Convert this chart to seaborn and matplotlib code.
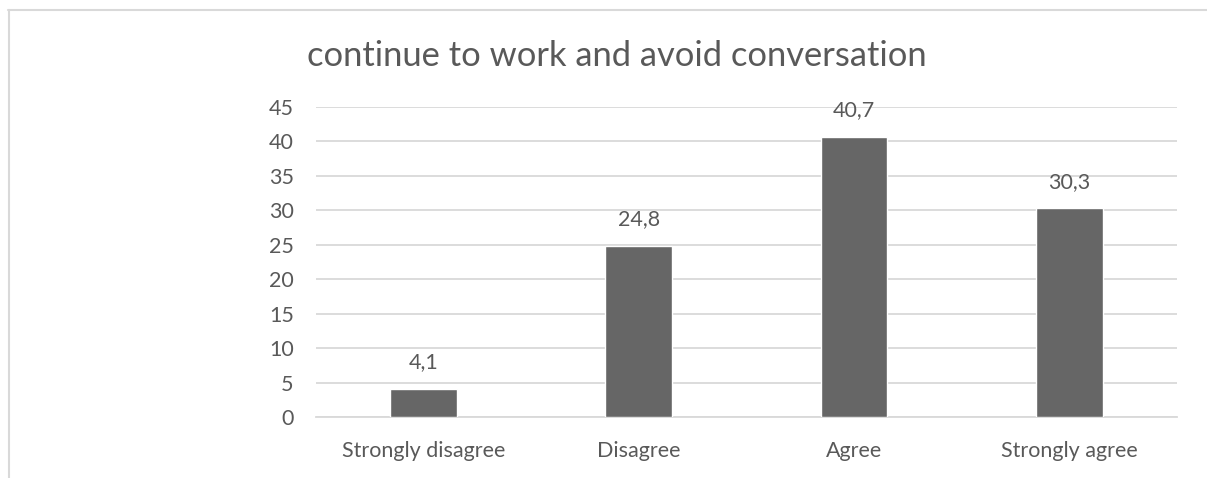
import matplotlib
matplotlib.use("Agg")
import matplotlib.pyplot as plt
from matplotlib.lines import Line2D
import seaborn as sns
import pandas as pd

categories = ["Strongly disagree", "Disagree", "Agree", "Strongly agree"]
values = [4.1, 24.8, 40.7, 30.3]
y_ticks = [0, 5, 10, 15, 20, 25, 30, 35, 40, 45]
title = "continue to work and avoid conversation"

sns.set_theme(style="white")
plt.rcParams["font.family"] = ["Lato", "DejaVu Sans"]

text_color = "#595959"
grid_color = "#d9d9d9"
bar_color = "#666666"

df = pd.DataFrame({"category": categories, "value": values})

fig = plt.figure(figsize=(12.07, 4.78), dpi=100)
ax = fig.add_axes([0.2618, 0.1276, 0.7133, 0.6485])

sns.barplot(data=df, x="category", y="value", color=bar_color,
            width=0.31, saturation=1, ax=ax, zorder=3)

ax.set_ylim(0, 45)
ax.set_yticks(y_ticks)
ax.set_xlim(-0.5, len(categories) - 0.5)
ax.yaxis.grid(True, color=grid_color, linewidth=1.3, zorder=0)
ax.xaxis.grid(False)
for side in ["top", "right", "left"]:
    ax.spines[side].set_visible(False)
ax.spines["bottom"].set_color(grid_color)
ax.spines["bottom"].set_linewidth(1.3)
ax.set_xlabel("")
ax.set_ylabel("")
ax.tick_params(axis="y", length=0, pad=16, labelsize=15.5, labelcolor=text_color)
ax.tick_params(axis="x", length=0, pad=17, labelsize=15.5, labelcolor=text_color)

for patch, v in zip(ax.patches, values):
    ax.annotate(f"{v:.1f}".replace(".", ","),
                (patch.get_x() + patch.get_width() / 2, patch.get_height()),
                xytext=(0, 12), textcoords="offset points",
                ha="center", va="bottom", fontsize=15.5, color=text_color)

fig.text(0.511, 0.882, title, ha="center", va="center",
         fontsize=24.8, color=text_color)

# chart frame edges
fig.add_artist(Line2D([8 / 1207, 1], [1 - 10 / 478, 1 - 10 / 478],
                      color=grid_color, linewidth=1.5, transform=fig.transFigure))
fig.add_artist(Line2D([8.5 / 1207, 8.5 / 1207], [0, 1 - 10 / 478],
                      color=grid_color, linewidth=1.5, transform=fig.transFigure))

fig.savefig("out.png", dpi=100)
